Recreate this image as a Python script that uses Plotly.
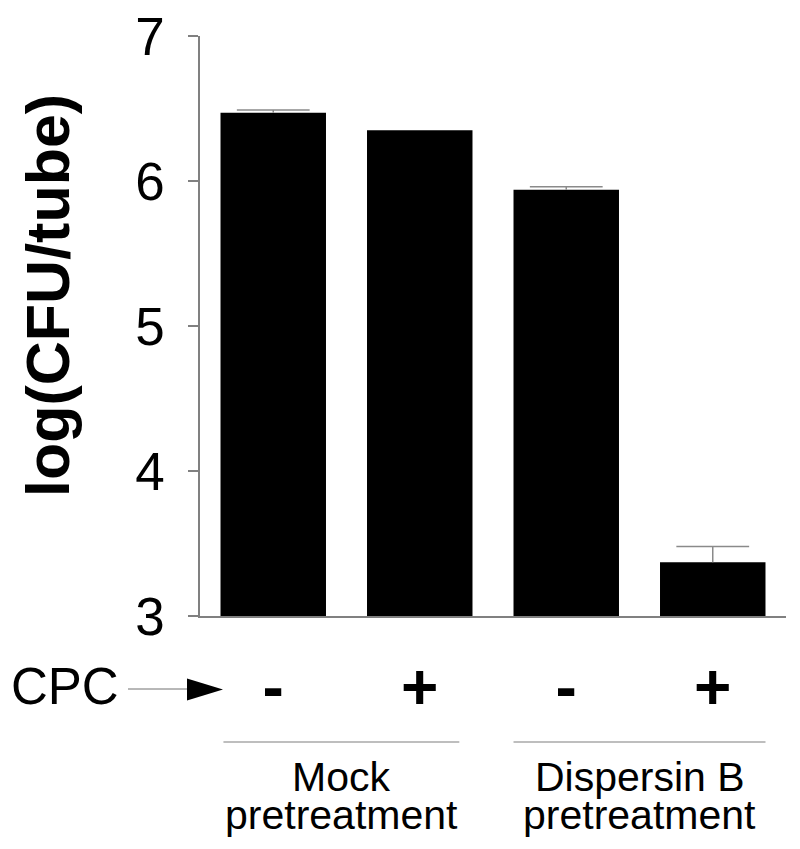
import plotly.graph_objects as go

# ---- data ----
categories = ["Mock -", "Mock +", "DspB -", "DspB +"]
cpc_labels = ["-", "+", "-", "+"]
log_cfu = [6.47, 6.35, 5.94, 3.37]
log_cfu_err = [0.02, None, 0.02, 0.11]
y_ticks = [3, 4, 5, 6, 7]
group_labels = [("Mock", "pretreatment"), ("Dispersin B", "pretreatment")]

W, H = 800, 849
# target plot area in page pixels: x 200..786, y 36..616
PL, PR, PT, PB = 200, 786, 36, 616
ML, MT, MR, MB = PL, PT, W - PR, H - PB
PW, PH = PR - PL, PB - PT


def px(x):
    return (x - PL) / PW


def py(y):
    return (PB - y) / PH


FONT = "Liberation Sans, Arial, Helvetica, sans-serif"
ERR_COLOR = "#8a8a8a"

err_up = [e if e is not None else 0 for e in log_cfu_err]
cap_y = [v + e if e is not None else None for v, e in zip(log_cfu, log_cfu_err)]

fig = go.Figure()
fig.add_trace(go.Bar(
    x=categories,
    y=log_cfu,
    base=0,
    width=0.72,
    marker=dict(color="black", line=dict(width=0)),
    error_y=dict(type="data", array=err_up, arrayminus=[0] * len(err_up),
                 symmetric=False, visible=True,
                 color=ERR_COLOR, thickness=1.5, width=0),
    showlegend=False,
    hoverinfo="x+y",
))
# error-bar caps (upper only)
fig.add_trace(go.Scatter(
    x=categories, y=cap_y, mode="markers",
    marker=dict(symbol="line-ew", size=52, color=ERR_COLOR,
                line=dict(color=ERR_COLOR, width=1.5)),
    showlegend=False, hoverinfo="skip",
))

shapes = []
# group underline lines
for x0, x1 in [(-0.34, 1.27), (1.64, 3.36)]:
    shapes.append(dict(type="line", xref="x", yref="paper", x0=x0, x1=x1,
                       y0=py(742), y1=py(742),
                       line=dict(color="#a8a8a8", width=1.5)))
# CPC arrow
shapes.append(dict(type="line", xref="paper", yref="paper",
                   x0=px(128), x1=px(188), y0=py(689), y1=py(689),
                   line=dict(color="#707070", width=1)))
shapes.append(dict(type="path", xref="paper", yref="paper",
                   path=f"M {px(187)} {py(678.5)} L {px(223)} {py(689.5)} L {px(187)} {py(700.5)} Z",
                   fillcolor="black", line=dict(width=0)))

annotations = [
    dict(text="CPC", x=px(65), y=py(686), xref="paper", yref="paper",
         showarrow=False, font=dict(family=FONT, size=51, color="black"),
         xanchor="center", yanchor="middle"),
    dict(text="<b>log(CFU/tube)</b>", x=px(48), y=py(296), xref="paper", yref="paper",
         showarrow=False, textangle=-90,
         font=dict(family=FONT, size=61, color="black"),
         xanchor="center", yanchor="middle"),
]
group_centres = [(-0.34 + 1.27) / 2, (1.64 + 3.36) / 2]
for (l1, l2), xc in zip(group_labels, group_centres):
    annotations.append(dict(text=l1, x=xc, y=py(777), xref="x", yref="paper",
                            showarrow=False, xanchor="center", yanchor="middle",
                            font=dict(family=FONT, size=41, color="black")))
    annotations.append(dict(text=l2, x=xc, y=py(815), xref="x", yref="paper",
                            showarrow=False, xanchor="center", yanchor="middle",
                            font=dict(family=FONT, size=41, color="black")))

fig.update_layout(
    width=W, height=H,
    margin=dict(l=ML, r=MR, t=MT, b=MB, autoexpand=False),
    paper_bgcolor="white", plot_bgcolor="white",
    shapes=shapes, annotations=annotations,
    xaxis=dict(
        type="category", range=[-0.5, 3.5],
        tickmode="array", tickvals=categories, ticktext=[f"<b>{c}</b>" for c in cpc_labels],
        tickfont=dict(family=FONT, size=64, color="black"),
        showline=True, linecolor="#808080", linewidth=1.5,
        ticks="", showgrid=False, zeroline=False,
        ticklabelstandoff=14,
    ),
    yaxis=dict(
        range=[3, 7], tickmode="array", tickvals=y_ticks,
        tickfont=dict(family=FONT, size=53, color="black"),
        showline=True, linecolor="#808080", linewidth=1.5,
        ticks="outside", ticklen=10, tickcolor="#808080", tickwidth=1.5,
        showgrid=False, zeroline=False, ticklabelstandoff=13,
    ),
    bargap=0.28,
)

fig.write_html("out.html", config={"displayModeBar": False},
               post_script="document.body.style.margin='0px';")
